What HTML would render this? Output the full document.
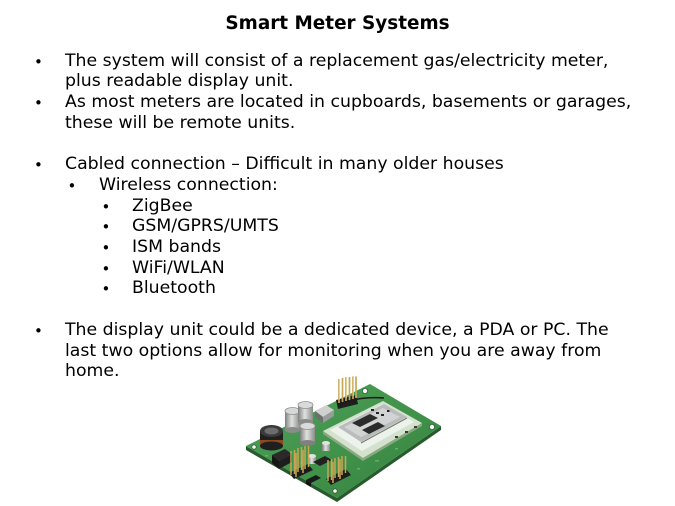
<!DOCTYPE html>
<html>
<head>
<meta charset="utf-8">
<style>
  html, body { margin:0; padding:0; background:#fff; }
  body { width:675px; height:506px; position:relative; overflow:hidden;
         font-family:"DejaVu Sans","Liberation Sans",sans-serif; color:#000; }
  .t { position:absolute; left:0; width:675px; text-align:center; top:12.6px;
       font-weight:bold; font-size:18.4px; line-height:22px; white-space:nowrap; }
  .l { position:absolute; font-size:17.3px; line-height:20.7px; white-space:nowrap; }
  .b { position:absolute; font-size:15px; line-height:20.7px; }
</style>
</head>
<body>
<div class="t">Smart Meter Systems</div>

<span class="b" style="left:34px;top:51.6px">•</span>
<div class="l" style="left:65px;top:50.7px">The system will consist of a replacement gas/electricity meter,</div>
<div class="l" style="left:65px;top:71.4px">plus readable display unit.</div>
<span class="b" style="left:34px;top:93.0px">•</span>
<div class="l" style="left:65px;top:92.1px">As most meters are located in cupboards, basements or garages,</div>
<div class="l" style="left:65px;top:112.8px">these will be remote units.</div>

<span class="b" style="left:34px;top:155.1px">•</span>
<div class="l" style="left:65px;top:154.2px">Cabled connection – Difficult in many older houses</div>
<span class="b" style="left:67.5px;top:175.8px">•</span>
<div class="l" style="left:99px;top:174.9px">Wireless connection:</div>
<span class="b" style="left:101.5px;top:196.5px">•</span>
<div class="l" style="left:132px;top:195.6px">ZigBee</div>
<span class="b" style="left:101.5px;top:217.2px">•</span>
<div class="l" style="left:132px;top:216.3px">GSM/GPRS/UMTS</div>
<span class="b" style="left:101.5px;top:237.9px">•</span>
<div class="l" style="left:132px;top:237.0px">ISM bands</div>
<span class="b" style="left:101.5px;top:258.6px">•</span>
<div class="l" style="left:132px;top:257.7px">WiFi/WLAN</div>
<span class="b" style="left:101.5px;top:279.3px">•</span>
<div class="l" style="left:132px;top:278.4px">Bluetooth</div>

<span class="b" style="left:34px;top:320.7px">•</span>
<div class="l" style="left:65px;top:319.8px">The display unit could be a dedicated device, a PDA or PC. The</div>
<div class="l" style="left:65px;top:340.5px">last two options allow for monitoring when you are away from</div>
<div class="l" style="left:65px;top:361.2px">home.</div>

<svg style="position:absolute;left:240px;top:376px" width="205" height="130" viewBox="240 376 205 130" xmlns="http://www.w3.org/2000/svg">
  <defs>
    <linearGradient id="pcb" x1="0" y1="0" x2="1" y2="1">
      <stop offset="0" stop-color="#4fa35a"/>
      <stop offset="0.6" stop-color="#3f9049"/>
      <stop offset="1" stop-color="#357d3e"/>
    </linearGradient>
    <linearGradient id="cap" x1="0" y1="0" x2="1" y2="0">
      <stop offset="0" stop-color="#7d7f7e"/>
      <stop offset="0.45" stop-color="#e0e2e0"/>
      <stop offset="1" stop-color="#8a8c8a"/>
    </linearGradient>
  </defs>
  <polygon points="246,446 337,498 441,426 441,430 337,502 246,450" fill="#275a2d"/>
  <polygon points="246,446 370,384 441,426 337,498" fill="url(#pcb)"/>
  <circle cx="365" cy="391" r="2.6" fill="#fff" stroke="#2a6031" stroke-width="0.8"/>
  <circle cx="432" cy="427" r="2.6" fill="#fff" stroke="#2a6031" stroke-width="0.8"/>
  <circle cx="254" cy="447" r="2.2" fill="#fff" stroke="#2a6031" stroke-width="0.8"/>
  <circle cx="335" cy="491" r="2.2" fill="#fff" stroke="#2a6031" stroke-width="0.8"/>
  <g fill="#6fbf78" opacity="0.7">
    <rect x="300" y="462" width="3" height="1.5"/>
    <rect x="357" y="468" width="3" height="1.5"/>
    <rect x="375" y="460" width="4" height="1.5"/>
    <rect x="265" y="455" width="3" height="1.5"/>
    <rect x="395" y="448" width="3" height="1.5"/>
  </g>

  <!-- top pin header -->
  <polygon points="336,400 356,395 358,404 338,409" fill="#1e1e1e"/>
  <g stroke="#c9a653" stroke-width="1.7">
    <line x1="339" y1="379" x2="339" y2="403"/>
    <line x1="342.5" y1="378" x2="342.5" y2="402"/>
    <line x1="346" y1="377" x2="346" y2="401"/>
    <line x1="349.5" y1="377" x2="349.5" y2="400"/>
    <line x1="353" y1="376.5" x2="353" y2="399"/>
    <line x1="356" y1="376.5" x2="356" y2="398"/>
  </g>
  <g stroke="#f0dc9a" stroke-width="0.6">
    <line x1="339.3" y1="379" x2="339.3" y2="400"/>
    <line x1="346.3" y1="377" x2="346.3" y2="398"/>
    <line x1="353.3" y1="377" x2="353.3" y2="396"/>
  </g>
  <path d="M338,405 Q358,396 384,398" stroke="#1c1c1c" stroke-width="1.6" fill="none"/>

  <polygon points="315,411 326,405 334,410 323,417" fill="#cfd1d0"/>
  <polygon points="315,411 323,417 323,423 315,417" fill="#6d6f6e"/>
  <polygon points="323,417 334,410 334,416 323,423" fill="#9a9c9b"/>

  <!-- SIM module -->
  <polygon points="323,431 363,458 422,423 422,426 363,461 323,434" fill="#8aa882"/>
  <polygon points="323,431 383,401 422,423 363,458" fill="#d3e2cc"/>
  <polygon points="330,430 383,404 414,422 362,451" fill="#eef2ec"/>
  <polygon points="338,427 384,404 407,417 361,442" fill="#b9bcbb"/>
  <polygon points="344,427 383,408 400,417 361,437" fill="#d2d4d3"/>
  <polygon points="352,423 370,414 378,418 360,427" fill="#2b2b2b"/>
  <polygon points="362,430 378,422 385,426 369,434" fill="#2b2b2b"/>
  <g fill="#222">
    <rect x="371" y="409" width="3" height="2"/>
    <rect x="376" y="412" width="3" height="2"/>
    <rect x="381" y="414" width="3" height="2"/>
    <rect x="387" y="410" width="2.5" height="2"/>
  </g>
  <line x1="361" y1="443" x2="407" y2="418" stroke="#6c7a66" stroke-width="1"/>
  <g fill="#3a3a3a">
    <rect x="395" y="436" width="3" height="2"/>
    <rect x="405" y="431" width="3" height="2"/>
    <rect x="414" y="426" width="3" height="2"/>
  </g>

  <!-- inductor -->
  <rect x="260" y="431" width="23" height="15" fill="#1f1f1f"/>
  <rect x="260" y="440" width="23" height="6" fill="#8a4a20"/>
  <ellipse cx="271.5" cy="446" rx="11.5" ry="4.5" fill="#1f1f1f"/>
  <ellipse cx="271.5" cy="431" rx="11.5" ry="6" fill="#3a3a3a"/>
  <ellipse cx="271.5" cy="431" rx="7" ry="3.5" fill="#6c6c6c"/>

  <!-- capacitors -->
  <rect x="285" y="411" width="15" height="19" fill="url(#cap)"/>
  <ellipse cx="292.5" cy="430" rx="7.5" ry="3" fill="#8a8c8a"/>
  <ellipse cx="292.5" cy="411" rx="7.5" ry="3.5" fill="#d6d8d7" stroke="#8f918f" stroke-width="0.8"/>
  <rect x="298" y="405" width="15" height="17" fill="url(#cap)"/>
  <ellipse cx="305.5" cy="422" rx="7.5" ry="3" fill="#8a8c8a"/>
  <ellipse cx="305.5" cy="405" rx="7.5" ry="3.5" fill="#d9dbda" stroke="#8f918f" stroke-width="0.8"/>
  <rect x="300" y="426" width="15" height="17" fill="url(#cap)"/>
  <ellipse cx="307.5" cy="443" rx="7.5" ry="3" fill="#7f817f"/>
  <ellipse cx="307.5" cy="426" rx="7.5" ry="3.5" fill="#d9dbda" stroke="#8f918f" stroke-width="0.8"/>

  <rect x="322" y="443" width="8" height="8" fill="url(#cap)"/>
  <ellipse cx="326" cy="443" rx="4" ry="2" fill="#e2e2e2"/>
  <rect x="308" y="456" width="8" height="8" fill="url(#cap)"/>
  <ellipse cx="312" cy="456" rx="4" ry="2" fill="#e2e2e2"/>

  <!-- ICs -->
  <polygon points="272,455 285,449 292,454 279,461" fill="#2a2a2a"/>
  <polygon points="272,455 279,461 279,469 272,463" fill="#151515"/>
  <polygon points="279,461 292,454 292,462 279,469" fill="#1d1d1d"/>
  <polygon points="313,462 325,456 332,460 320,466" fill="#222"/>
  <polygon points="306,480 316,475 321,478 311,483" fill="#1a1a1a"/>
  <polygon points="306,480 311,483 311,487 306,484" fill="#111"/>

  <!-- lower-left gold header -->
  <polygon points="289,473 308,464 313,470 294,479" fill="#1d1d1d"/>
  <g stroke="#c9a653" stroke-width="1.5">
    <line x1="291" y1="451" x2="291" y2="475"/>
    <line x1="294.5" y1="450" x2="294.5" y2="474"/>
    <line x1="298" y1="448" x2="298" y2="472"/>
    <line x1="301.5" y1="447" x2="301.5" y2="470"/>
    <line x1="305" y1="446" x2="305" y2="469"/>
    <line x1="308.5" y1="446" x2="308.5" y2="467"/>
    <line x1="296" y1="453" x2="296" y2="477"/>
    <line x1="303" y1="450" x2="303" y2="473"/>
  </g>

  <!-- lower-right gold header -->
  <polygon points="326,479 346,469 351,475 331,485" fill="#1d1d1d"/>
  <g stroke="#c9a653" stroke-width="1.5">
    <line x1="328" y1="460" x2="328" y2="481"/>
    <line x1="331.5" y1="459" x2="331.5" y2="480"/>
    <line x1="335" y1="458" x2="335" y2="478"/>
    <line x1="338.5" y1="457" x2="338.5" y2="477"/>
    <line x1="342" y1="456" x2="342" y2="475"/>
    <line x1="345.5" y1="456" x2="345.5" y2="473"/>
    <line x1="333" y1="462" x2="333" y2="483"/>
    <line x1="340" y1="459" x2="340" y2="479"/>
  </g>
</svg>
</body>
</html>
